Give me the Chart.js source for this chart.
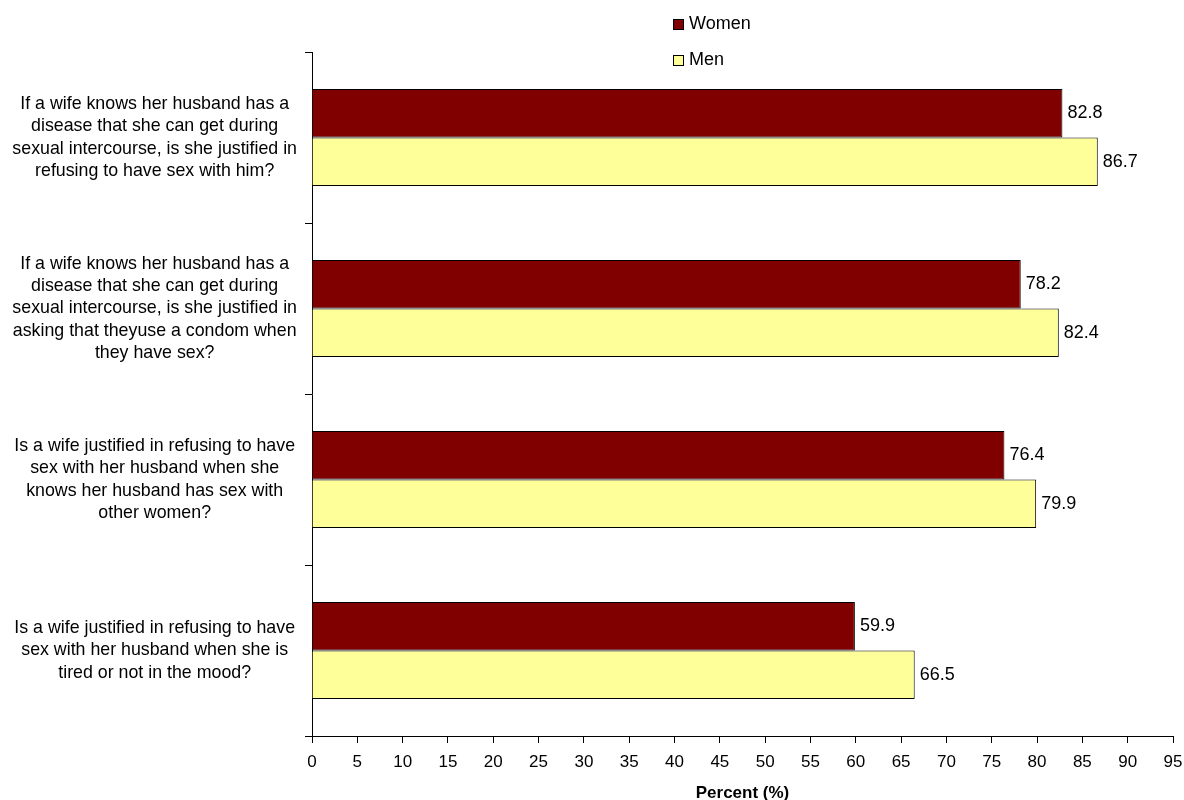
<!DOCTYPE html>
<html>
<head>
<meta charset="utf-8">
<script src="https://cdn.jsdelivr.net/npm/chart.js@4.4.1/dist/chart.umd.min.js"></script>
<style>
  html, body { margin: 0; padding: 0; background: #fff; overflow: hidden; }
  #wrap { width: 1184px; height: 800px; position: relative; }
</style>
</head>
<body>
<div id="wrap"><canvas id="graph"></canvas></div>
<script>
// Questions (one line per array entry)
const categories = [
    ["If a wife knows her husband has a", "disease that she can get during", "sexual intercourse, is she justified in", "refusing to have sex with him?"],
    ["If a wife knows her husband has a", "disease that she can get during", "sexual intercourse, is she justified in", "asking that theyuse a condom when", "they have sex?"],
    ["Is a wife justified in refusing to have", "sex with her husband when she", "knows her husband has sex with", "other women?"],
    ["Is a wife justified in refusing to have", "sex with her husband when she is", "tired or not in the mood?"]
];
const seriesNames = ["Women", "Men"];
const womenValues = [82.8, 78.2, 76.4, 59.9];
const menValues = [86.7, 82.4, 79.9, 66.5];
const xTicks = [0, 5, 10, 15, 20, 25, 30, 35, 40, 45, 50, 55, 60, 65, 70, 75, 80, 85, 90, 95];
const axisTitle = "Percent (%)";

const FONT = "'Liberation Sans', Arial, sans-serif";
const couleurs = ["#800000", "#FFFF99"];

// Valeurs au bout des barres
const etiquettes = {
    id: "etiquettes",
    afterDatasetsDraw(chart) {
        const ctx = chart.ctx;
        ctx.save();
        ctx.font = "18px " + FONT;
        ctx.fillStyle = "#000";
        ctx.textAlign = "left";
        ctx.textBaseline = "middle";
        chart.data.datasets.forEach((ds, i) => {
            chart.getDatasetMeta(i).data.forEach((bar, j) => {
                ctx.fillText(ds.data[j].toFixed(1), bar.x + 5, bar.y);
            });
        });
        ctx.restore();
    }
};

// Légende verticale en haut
const legende = {
    id: "legende",
    afterDraw(chart) {
        const ctx = chart.ctx;
        ctx.save();
        ctx.font = "18px " + FONT;
        ctx.textBaseline = "middle";
        chart.data.datasets.forEach((ds, i) => {
            const y = 24.5 + i * 36;
            ctx.fillStyle = ds.backgroundColor;
            ctx.fillRect(673, y - 5.5, 11, 11);
            ctx.strokeStyle = "#000";
            ctx.lineWidth = 1;
            ctx.strokeRect(673.5, y - 5, 10, 10);
            ctx.fillStyle = "#000";
            ctx.fillText(ds.label, 689, y);
        });
        ctx.restore();
    }
};

new Chart(document.getElementById("graph"), {
    type: "bar",
    data: {
        labels: categories,
        datasets: [
            { label: seriesNames[0], data: womenValues, backgroundColor: couleurs[0], borderColor: "#000", borderWidth: 1 },
            { label: seriesNames[1], data: menValues, backgroundColor: couleurs[1], borderColor: "#000", borderWidth: 1 }
        ]
    },
    options: {
        indexAxis: "y",
        responsive: true,
        maintainAspectRatio: false,
        animation: false,
        datasets: { bar: { categoryPercentage: 0.568, barPercentage: 1 } },
        layout: { padding: { top: 52, right: 0, left: 0, bottom: 0 } },
        plugins: {
            legend: { display: false },
            tooltip: { enabled: false }
        },
        scales: {
            x: {
                min: 0,
                max: 95,
                afterBuildTicks: (scale) => { scale.ticks = xTicks.map(v => ({ value: v })); },
                afterFit: (scale) => {
                    scale.height = 64;
                    scale.paddingRight = 11;
                },
                grid: { drawOnChartArea: false, drawTicks: true, tickLength: 7, color: "#000" },
                border: { color: "#000", width: 1 },
                ticks: { color: "#000", padding: 9, font: { family: FONT, size: 17 }, maxRotation: 0, autoSkip: false },
                title: {
                    display: true,
                    text: axisTitle,
                    color: "#000",
                    font: { family: FONT, size: 17, weight: "bold", lineHeight: 1 },
                    padding: { top: 0, bottom: -2 }
                }
            },
            y: {
                afterFit: (scale) => { scale.width = 312; },
                grid: { drawOnChartArea: false, drawTicks: true, tickLength: 7, color: "#000" },
                border: { color: "#000", width: 1 },
                ticks: {
                    color: "#000",
                    padding: 8,
                    crossAlign: "center",
                    autoSkip: false,
                    font: { family: FONT, size: 17.8, lineHeight: 1.25 }
                }
            }
        }
    },
    plugins: [etiquettes, legende]
});
</script>
</body>
</html>
